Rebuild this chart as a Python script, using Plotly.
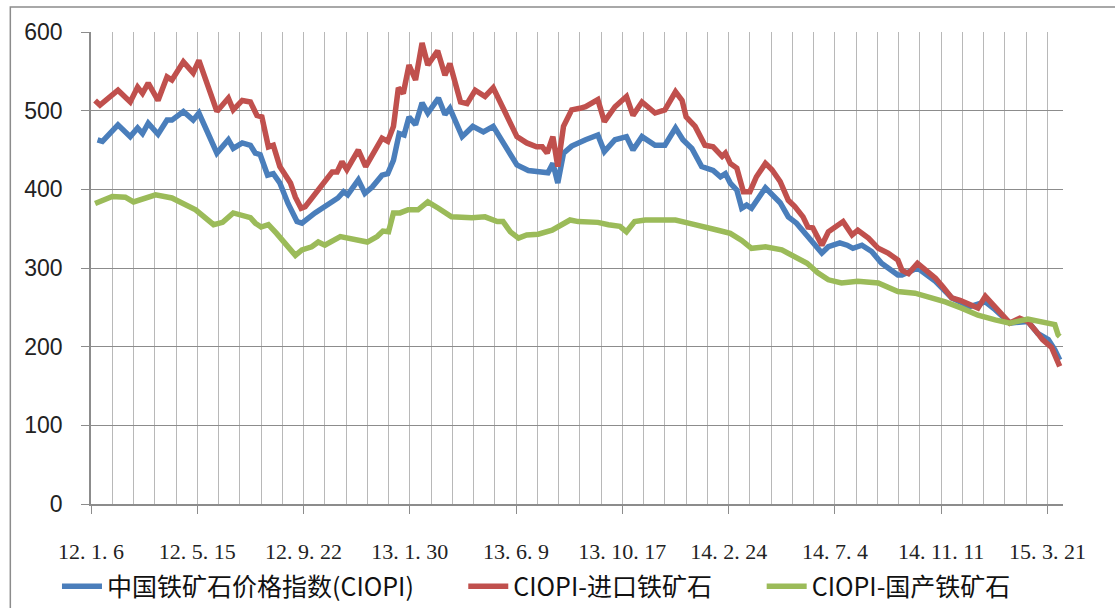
import pandas as pd
import plotly.graph_objects as go

# Weekly-ish readings of the China Iron Ore Price Index, given as days after 2012-01-06
base_date = "2012-01-06"

ciopi_days = [8, 14, 33, 48, 57, 63, 70, 82, 93, 99, 113, 125, 132, 154, 168, 174, 185, 195,
              201, 207, 216, 223, 231, 241, 252, 258, 274, 286, 296, 302, 309, 314, 327, 335,
              344, 356, 363, 370, 377, 383, 389, 397, 405, 412, 425, 433, 439, 454, 467, 480,
              492, 507, 521, 535, 551, 559, 565, 571, 578, 588, 605, 620, 628, 641, 655, 663,
              674, 690, 702, 715, 724, 735, 747, 761, 770, 776, 782, 790, 796, 802, 808, 825,
              843, 853, 863, 874, 882, 894, 902, 916, 925, 932, 943, 955, 967, 980, 987, 992,
              1011, 1033, 1053, 1075, 1094, 1106, 1124, 1146, 1158, 1171, 1179, 1185]
ciopi_vals = [463, 461, 482, 467, 478, 471, 484, 470, 488, 488, 499, 488, 497, 446, 463, 452, 459, 456,
              446, 444, 418, 420, 408, 382, 359, 357, 370, 378, 386, 389, 397, 393, 412, 395,
              403, 418, 420, 437, 471, 469, 492, 482, 510, 497, 516, 495, 503, 467, 480, 473,
              480, 454, 431, 424, 422, 421, 433, 408, 446, 455, 463, 469, 448, 463, 467, 450,
              467, 456, 456, 478, 463, 452, 429, 424, 416, 420, 408, 399, 376, 380, 376, 402,
              383, 365, 357, 344, 335, 319, 327, 332, 329, 325, 329, 321, 306, 297, 291, 291,
              300, 283, 262, 251, 257, 247, 230, 232, 217, 209, 196, 183]

import_days = [5, 11, 33, 48, 57, 63, 70, 82, 93, 99, 113, 125, 132, 154, 168, 174, 185, 195,
               203, 209, 217, 223, 231, 244, 250, 257, 262, 274, 286, 295, 301, 307, 313, 327,
               336, 344, 356, 363, 370, 376, 382, 389, 397, 405, 412, 424, 433, 439, 452, 460,
               470, 482, 492, 507, 521, 533, 545, 552, 558, 565, 571, 578, 588, 598, 605, 620,
               628, 641, 655, 663, 674, 690, 702, 715, 723, 728, 739, 751, 761, 772, 776, 782,
               790, 798, 806, 814, 825, 833, 843, 853, 861, 871, 877, 883, 894, 902, 910, 920,
               931, 938, 951, 963, 975, 987, 992, 1000, 1011, 1022, 1033, 1042, 1053, 1063,
               1075, 1085, 1094, 1102, 1112, 1124, 1136, 1146, 1155, 1164, 1175, 1181, 1185]
import_vals = [513, 507, 526, 511, 530, 522, 535, 513, 543, 539, 562, 548, 564, 499, 516, 501, 513, 511,
               494, 492, 454, 456, 429, 408, 390, 376, 378, 395, 412, 422, 422, 435, 425, 450,
               429, 444, 465, 461, 480, 529, 522, 558, 539, 586, 558, 576, 545, 560, 511, 509,
               526, 518, 529, 497, 467, 459, 454, 454, 446, 467, 429, 480, 501, 503, 505, 514,
               486, 505, 518, 494, 511, 497, 501, 524, 513, 492, 480, 456, 454, 442, 446, 433,
               427, 397, 397, 416, 433, 425, 410, 386, 378, 365, 352, 351, 329, 346, 352, 359,
               342, 348, 338, 325, 319, 310, 297, 293, 306, 297, 287, 276, 262, 259,
               253, 249, 264, 255, 243, 230, 236, 232, 221, 209, 199, 183, 175]

domestic_days = [5, 26, 42, 52, 79, 99, 128, 150, 161, 174, 195, 201, 208, 217, 227, 241, 250, 258,
                 270, 278, 286, 305, 323, 338, 350, 357, 364, 370, 378, 388, 400, 412, 425, 441,
                 466, 482, 497, 504, 513, 523, 533, 547, 564, 576, 586, 596, 620, 633, 647, 655,
                 665, 678, 702, 715, 731, 751, 767, 782, 796, 808, 825, 845, 863, 876, 889, 902,
                 918, 938, 963, 975, 987, 1008, 1024, 1045, 1065, 1085, 1106, 1124, 1146, 1163,
                 1179, 1183, 1185]
domestic_vals = [382, 391, 390, 384, 393, 389, 374, 355, 358, 370, 364, 357, 352, 355, 344, 327, 316, 323,
                 327, 333, 329, 340, 337, 333, 340, 347, 346, 370, 370, 374, 374, 384, 376, 365,
                 364, 365, 359, 359, 346, 338, 342, 343, 348, 355, 361, 359, 358, 355, 353, 346,
                 359, 361, 361, 361, 357, 351, 348, 344, 335, 325, 327, 323, 314, 306, 294, 285,
                 281, 283, 281, 276, 270, 268, 264, 257, 249, 240, 234, 230, 235, 232,
                 228, 215, 213]

tick_dates = ["2012-01-06", "2012-05-15", "2012-09-22", "2013-01-30", "2013-06-09",
              "2013-10-17", "2014-02-24", "2014-07-04", "2014-11-11", "2015-03-21"]
tick_labels = ["12. 1. 6", "12. 5. 15", "12. 9. 22", "13. 1. 30", "13. 6. 9",
               "13. 10. 17", "14. 2. 24", "14. 7. 4", "14. 11. 11", "15. 3. 21"]

# name, days, values, colour, legend slot
series = [
    ("中国铁矿石价格指数(CIOPI)", ciopi_days, ciopi_vals, "#4a7ebb", "legend"),
    ("CIOPI-进口铁矿石", import_days, import_vals, "#c0504d", "legend2"),
    ("CIOPI-国产铁矿石", domestic_days, domestic_vals, "#9bbb59", "legend3"),
]

start = pd.Timestamp(base_date)
fig = go.Figure()
for name, days, vals, color, slot in series:
    dates = start + pd.to_timedelta(days, unit="D")
    fig.add_trace(go.Scatter(
        x=dates, y=vals, name=name, mode="lines",
        line=dict(color=color, width=5.5), legend=slot,
    ))

day_ms = 86400000
axis_end = start + pd.Timedelta(days=1189)

legend_font = dict(family="Noto Sans CJK SC", size=25, color="#111111")


def legend_box(x):
    return dict(orientation="h", x=x, y=-0.126, xanchor="left", yanchor="top",
                font=legend_font, bgcolor="rgba(0,0,0,0)", itemwidth=40)


fig.update_layout(
    width=1115, height=608,
    margin=dict(l=91, r=52, t=32, b=104, autoexpand=False),
    paper_bgcolor="white", plot_bgcolor="white",
    showlegend=True,
    legend=legend_box(-0.035),
    legend2=legend_box(0.383),
    legend3=legend_box(0.690),
    xaxis=dict(
        type="date",
        range=[start, axis_end],
        tickvals=tick_dates, ticktext=tick_labels,
        tickfont=dict(family="Liberation Serif", size=22, color="#222222"),
        ticks="outside", ticklen=8, tickcolor="#8c8c8c",
        ticklabelstandoff=19,
        showline=True, linecolor="#8c8c8c", linewidth=1.5,
        showgrid=True, gridcolor="#b8b8b8", gridwidth=1,
        minor=dict(tick0=base_date, dtick=26 * day_ms, showgrid=True,
                   gridcolor="#b8b8b8", gridwidth=1, ticks=""),
        zeroline=False,
    ),
    yaxis=dict(
        range=[0, 600], dtick=100,
        tickfont=dict(family="Liberation Sans", size=23, color="#222222"),
        ticks="outside", ticklen=8, tickcolor="#8c8c8c",
        ticklabelstandoff=14,
        showline=True, linecolor="#8c8c8c", linewidth=1.5,
        showgrid=True, gridcolor="#8c8c8c", gridwidth=1.2,
        zeroline=False,
    ),
    shapes=[dict(
        type="rect", xref="paper", yref="paper",
        x0=-0.083, x1=1.2, y0=-0.4, y1=1.053,
        line=dict(color="#8c8c8c", width=1.5), layer="below",
    )],
)

fig.write_html("out.html")
